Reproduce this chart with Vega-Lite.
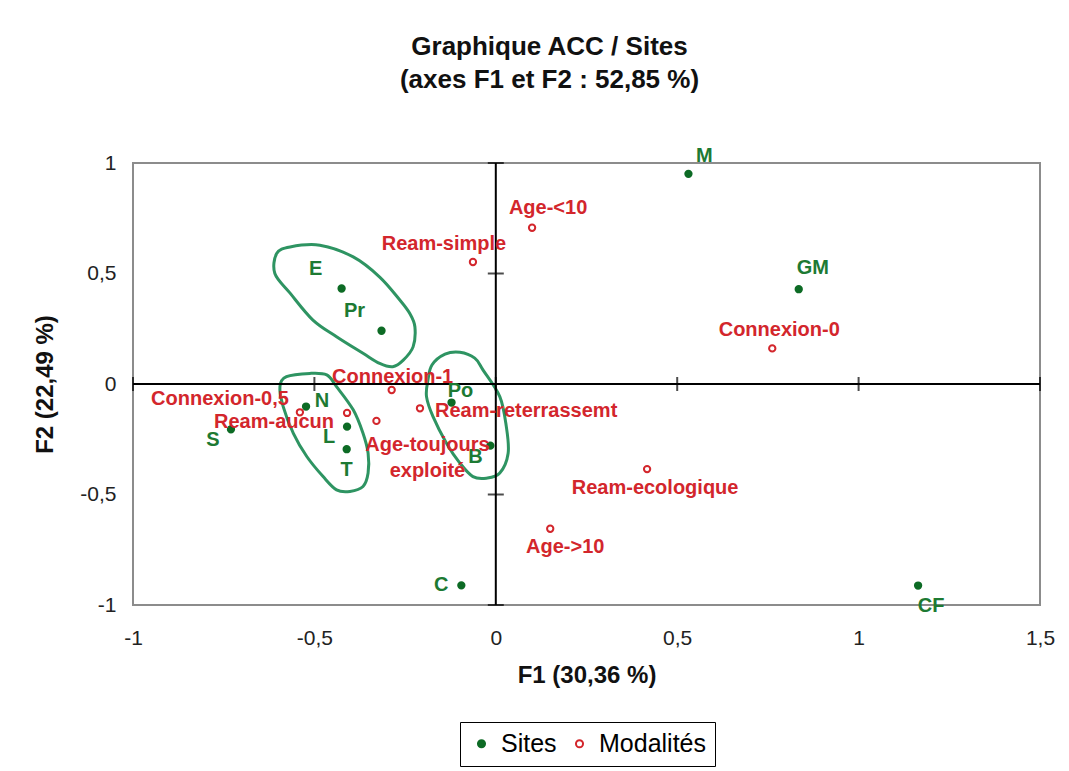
{
  "$schema": "https://vega.github.io/schema/vega-lite/v6.json",
  "width": 907,
  "height": 442,
  "autosize": {"type": "none"},
  "padding": {"left": 133, "top": 163, "right": 29, "bottom": 166},
  "background": "white",
  "title": {
    "text": ["Graphique ACC / Sites", "(axes F1 et F2 : 52,85 %)"],
    "font": "Liberation Sans",
    "fontSize": 26,
    "fontWeight": "bold",
    "color": "#111111",
    "lineHeight": 33,
    "anchor": "middle",
    "dx": -37,
    "offset": 53
  },
  "config": {
    "view": {"stroke": "#8c8c8c", "strokeWidth": 2},
    "font": "Liberation Sans",
    "axisX": {
      "grid": false, "domain": false, "ticks": false,
      "labelPadding": 22, "labelFontSize": 21, "labelColor": "#222222", "labelFont": "Liberation Sans",
      "labelFlush": false, "labelOverlap": false,
      "titleFontSize": 24, "titleFontWeight": "bold", "titleColor": "#111111", "titleFont": "Liberation Sans",
      "titleY": 70, "titleBaseline": "middle"
    },
    "axisY": {
      "grid": false, "domain": false, "ticks": false,
      "labelPadding": 17, "labelFontSize": 21, "labelColor": "#222222", "labelFont": "Liberation Sans",
      "labelFlush": false, "labelOverlap": false,
      "titleFontSize": 24, "titleFontWeight": "bold", "titleColor": "#111111", "titleFont": "Liberation Sans",
      "titleX": -88, "titleY": 221, "titleBaseline": "middle"
    }
  },
  "datasets": {
    "pts": [
      {"label": "M", "type": "Sites", "f1": 0.531, "f2": 0.951},
      {"label": "GM", "type": "Sites", "f1": 0.835, "f2": 0.429},
      {"label": "E", "type": "Sites", "f1": -0.425, "f2": 0.432},
      {"label": "Pr", "type": "Sites", "f1": -0.315, "f2": 0.241},
      {"label": "N", "type": "Sites", "f1": -0.523, "f2": -0.102},
      {"label": "L", "type": "Sites", "f1": -0.41, "f2": -0.193},
      {"label": "T", "type": "Sites", "f1": -0.411, "f2": -0.295},
      {"label": "S", "type": "Sites", "f1": -0.73, "f2": -0.205},
      {"label": "Po", "type": "Sites", "f1": -0.122, "f2": -0.084},
      {"label": "B", "type": "Sites", "f1": -0.015, "f2": -0.279},
      {"label": "C", "type": "Sites", "f1": -0.095, "f2": -0.911},
      {"label": "CF", "type": "Sites", "f1": 1.164, "f2": -0.912},
      {"label": "Age-<10", "type": "Modalités", "f1": 0.1, "f2": 0.707},
      {"label": "Ream-simple", "type": "Modalités", "f1": -0.063, "f2": 0.552},
      {"label": "Connexion-0", "type": "Modalités", "f1": 0.762, "f2": 0.161},
      {"label": "Connexion-1", "type": "Modalités", "f1": -0.287, "f2": -0.027},
      {"label": "Connexion-0,5", "type": "Modalités", "f1": -0.54, "f2": -0.128},
      {"label": "Ream-aucun", "type": "Modalités", "f1": -0.41, "f2": -0.131},
      {"label": "Age-toujours exploité", "type": "Modalités", "f1": -0.329, "f2": -0.167},
      {"label": "Ream-reterrassemt", "type": "Modalités", "f1": -0.209, "f2": -0.11},
      {"label": "Ream-ecologique", "type": "Modalités", "f1": 0.417, "f2": -0.385},
      {"label": "Age->10", "type": "Modalités", "f1": 0.15, "f2": -0.655}
    ],
    "hulls": [
      {"g": 1, "i": 1, "f1": -0.604, "f2": 0.59},
      {"g": 1, "i": 2, "f1": -0.567, "f2": 0.62},
      {"g": 1, "i": 3, "f1": -0.485, "f2": 0.628},
      {"g": 1, "i": 4, "f1": -0.393, "f2": 0.575},
      {"g": 1, "i": 5, "f1": -0.32, "f2": 0.484},
      {"g": 1, "i": 6, "f1": -0.264, "f2": 0.379},
      {"g": 1, "i": 7, "f1": -0.237, "f2": 0.319},
      {"g": 1, "i": 8, "f1": -0.223, "f2": 0.259},
      {"g": 1, "i": 9, "f1": -0.228, "f2": 0.168},
      {"g": 1, "i": 10, "f1": -0.255, "f2": 0.108},
      {"g": 1, "i": 11, "f1": -0.284, "f2": 0.078},
      {"g": 1, "i": 12, "f1": -0.32, "f2": 0.093},
      {"g": 1, "i": 13, "f1": -0.366, "f2": 0.139},
      {"g": 1, "i": 14, "f1": -0.439, "f2": 0.214},
      {"g": 1, "i": 15, "f1": -0.504, "f2": 0.289},
      {"g": 1, "i": 16, "f1": -0.567, "f2": 0.411},
      {"g": 1, "i": 17, "f1": -0.609, "f2": 0.5},
      {"g": 2, "i": 1, "f1": -0.577, "f2": 0.033},
      {"g": 2, "i": 2, "f1": -0.512, "f2": 0.048},
      {"g": 2, "i": 3, "f1": -0.466, "f2": 0.041},
      {"g": 2, "i": 4, "f1": -0.439, "f2": -0.012},
      {"g": 2, "i": 5, "f1": -0.393, "f2": -0.117},
      {"g": 2, "i": 6, "f1": -0.366, "f2": -0.223},
      {"g": 2, "i": 7, "f1": -0.352, "f2": -0.313},
      {"g": 2, "i": 8, "f1": -0.352, "f2": -0.403},
      {"g": 2, "i": 9, "f1": -0.366, "f2": -0.464},
      {"g": 2, "i": 10, "f1": -0.402, "f2": -0.486},
      {"g": 2, "i": 11, "f1": -0.439, "f2": -0.479},
      {"g": 2, "i": 12, "f1": -0.476, "f2": -0.419},
      {"g": 2, "i": 13, "f1": -0.521, "f2": -0.328},
      {"g": 2, "i": 14, "f1": -0.558, "f2": -0.223},
      {"g": 2, "i": 15, "f1": -0.586, "f2": -0.102},
      {"g": 2, "i": 16, "f1": -0.595, "f2": -0.012},
      {"g": 3, "i": 1, "f1": -0.14, "f2": 0.135},
      {"g": 3, "i": 2, "f1": -0.099, "f2": 0.144},
      {"g": 3, "i": 3, "f1": -0.058, "f2": 0.117},
      {"g": 3, "i": 4, "f1": -0.035, "f2": 0.063},
      {"g": 3, "i": 5, "f1": 0.011, "f2": -0.057},
      {"g": 3, "i": 6, "f1": 0.029, "f2": -0.193},
      {"g": 3, "i": 7, "f1": 0.034, "f2": -0.313},
      {"g": 3, "i": 8, "f1": 0.011, "f2": -0.403},
      {"g": 3, "i": 9, "f1": -0.026, "f2": -0.426},
      {"g": 3, "i": 10, "f1": -0.063, "f2": -0.419},
      {"g": 3, "i": 11, "f1": -0.099, "f2": -0.358},
      {"g": 3, "i": 12, "f1": -0.136, "f2": -0.268},
      {"g": 3, "i": 13, "f1": -0.173, "f2": -0.148},
      {"g": 3, "i": 14, "f1": -0.191, "f2": -0.057},
      {"g": 3, "i": 15, "f1": -0.187, "f2": 0.018},
      {"g": 3, "i": 16, "f1": -0.176, "f2": 0.086}
    ],
    "xt": [{"f1": -1}, {"f1": -0.5}, {"f1": 0}, {"f1": 0.5}, {"f1": 1}, {"f1": 1.5}],
    "yt": [{"f2": -1}, {"f2": -0.5}, {"f2": 0}, {"f2": 0.5}, {"f2": 1}]
  },
  "layer": [
    {
      "data": {"name": "pts"},
      "mark": {"type": "point", "shape": "circle", "size": 40, "strokeWidth": 2, "opacity": 1},
      "encoding": {
        "x": {"field": "f1", "type": "quantitative", "scale": {"domain": [-1, 1.5], "nice": false, "zero": false},
              "axis": {"title": "F1 (30,36 %)", "values": [-1, -0.5, 0, 0.5, 1, 1.5], "labelExpr": "replace(toString(datum.value), '.', ',')"}},
        "y": {"field": "f2", "type": "quantitative", "scale": {"domain": [-1, 1], "nice": false, "zero": false},
              "axis": {"title": "F2 (22,49 %)", "values": [-1, -0.5, 0, 0.5, 1], "labelExpr": "replace(toString(datum.value), '.', ',')"}},
        "fill": {"field": "type", "type": "nominal",
                 "scale": {"domain": ["Sites", "Modalités"], "range": ["#0d6b25", "#ffffff"]},
                 "legend": {"title": null, "orient": "none", "legendX": 327, "legendY": 559, "direction": "horizontal",
                            "labelFontSize": 25, "labelFont": "Liberation Sans", "symbolSize": 50, "symbolStrokeWidth": 2,
                            "padding": 9, "strokeColor": "#000000", "labelOffset": 7, "columnPadding": 10,
                            "encode": {"labels": {"update": {"fill": {"signal": "datum.value === 'Sites' ? '#1d7a33' : '#d3262c'"}}},
                                       "legend": {"update": {"strokeWidth": {"value": 2.5}}}}}},
        "stroke": {"field": "type", "type": "nominal",
                   "scale": {"domain": ["Sites", "Modalités"], "range": ["#0d6b25", "#d3262c"]},
                   "legend": {"title": null, "orient": "none", "legendX": 327, "legendY": 559, "direction": "horizontal",
                              "labelFontSize": 25, "labelFont": "Liberation Sans", "symbolSize": 50, "symbolStrokeWidth": 2,
                              "padding": 9, "strokeColor": "#000000", "labelOffset": 7, "columnPadding": 10,
                              "encode": {"labels": {"update": {"fill": {"signal": "datum.value === 'Sites' ? '#1d7a33' : '#d3262c'"}}},
                                         "legend": {"update": {"strokeWidth": {"value": 2.5}}}}}}
      }
    },
    {
      "data": {"name": "hulls"},
      "mark": {"type": "line", "interpolate": "cardinal-closed", "color": "#2e9462", "strokeWidth": 3},
      "encoding": {
        "x": {"field": "f1", "type": "quantitative"},
        "y": {"field": "f2", "type": "quantitative"},
        "detail": {"field": "g", "type": "nominal"},
        "order": {"field": "i", "type": "quantitative"}
      }
    },
    {
      "data": {"values": [{}]},
      "mark": {"type": "rule", "color": "#000000", "strokeWidth": 2},
      "encoding": {"x": {"datum": 0, "type": "quantitative"}}
    },
    {
      "data": {"values": [{}]},
      "mark": {"type": "rule", "color": "#000000", "strokeWidth": 2},
      "encoding": {"y": {"datum": 0, "type": "quantitative"}}
    },
    {
      "data": {"name": "xt"},
      "mark": {"type": "tick", "orient": "vertical", "size": 14, "thickness": 2, "color": "#000000"},
      "encoding": {"x": {"field": "f1", "type": "quantitative"}, "y": {"datum": 0, "type": "quantitative"}}
    },
    {
      "data": {"name": "yt"},
      "mark": {"type": "tick", "orient": "horizontal", "size": 16, "thickness": 2, "color": "#000000"},
      "encoding": {"y": {"field": "f2", "type": "quantitative"}, "x": {"datum": 0, "type": "quantitative"}}
    },
    {
      "data": {"name": "pts"},
      "mark": {
        "type": "text", "fontSize": 20, "fontWeight": "bold", "font": "Liberation Sans", "baseline": "middle", "lineBreak": " ", "lineHeight": 26,
        "dx": {"expr": "[16,14,-26,-27,16,-18,0,-18,9,-15,-20,13,16,-29,7,1,-11,-13,51,15,8,15][indexof(['M','GM','E','Pr','N','L','T','S','Po','B','C','CF','Age-<10','Ream-simple','Connexion-0','Connexion-1','Connexion-0,5','Ream-aucun','Age-toujours exploité','Ream-reterrassemt','Ream-ecologique','Age->10'], datum.label)]"},
        "dy": {"expr": "[-18,-21,-20,-20,-6,10,21,11,-12,11,0,20,-20,-18,-18,-13,-13,9,24,3,19,18][indexof(['M','GM','E','Pr','N','L','T','S','Po','B','C','CF','Age-<10','Ream-simple','Connexion-0','Connexion-1','Connexion-0,5','Ream-aucun','Age-toujours exploité','Ream-reterrassemt','Ream-ecologique','Age->10'], datum.label)]"},
        "align": {"expr": "datum.label === 'Connexion-0,5' || datum.label === 'Ream-aucun' ? 'right' : datum.label === 'Ream-reterrassemt' ? 'left' : 'center'"}
      },
      "encoding": {
        "x": {"field": "f1", "type": "quantitative"},
        "y": {"field": "f2", "type": "quantitative"},
        "text": {"field": "label", "type": "nominal"},
        "color": {"condition": {"test": "datum.type === 'Sites'", "value": "#1d7a33"}, "value": "#d3262c"}
      }
    }
  ]
}
